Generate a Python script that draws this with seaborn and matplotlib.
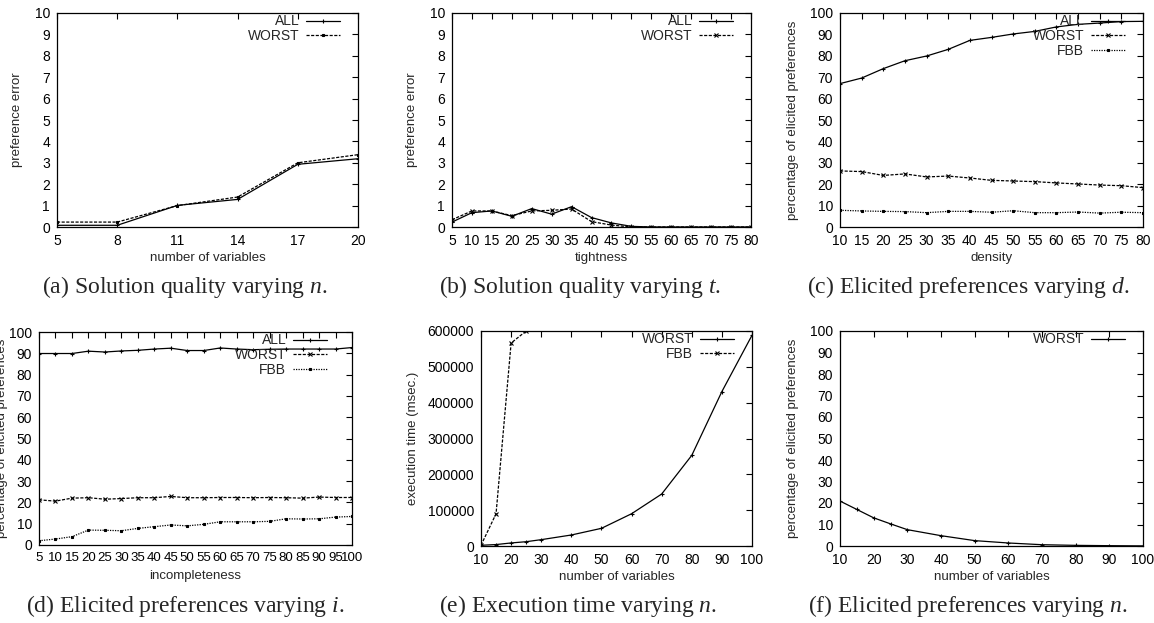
import matplotlib
matplotlib.use("Agg")
import matplotlib.pyplot as plt
import seaborn as sns
import pandas as pd

# data
n_a = [5, 8, 11, 14, 17, 20]
all_a = [0.08, 0.08, 1.01, 1.29, 2.93, 3.19]
worst_a = [0.23, 0.23, 1.0, 1.4, 3.0, 3.38]

t_b = [5, 10, 15, 20, 25, 30, 35, 40, 45, 50, 55, 60, 65, 70, 75, 80]
all_b = [0.23, 0.67, 0.75, 0.5, 0.86, 0.6, 0.95, 0.44, 0.19, 0.03, 0, 0, 0, 0, 0, 0]
worst_b = [0.34, 0.75, 0.75, 0.53, 0.75, 0.78, 0.84, 0.25, 0.09, 0, 0, 0, 0, 0, 0, 0]

d_c = [10, 15, 20, 25, 30, 35, 40, 45, 50, 55, 60, 65, 70, 75, 80]
all_c = [67, 69.6, 74, 77.7, 79.9, 83, 87.2, 88.6, 90.2, 91.4, 93.5, 94.7, 95.3, 96, 96.1]
worst_c = [26.2, 25.9, 24.1, 24.8, 23.4, 23.8, 22.9, 21.8, 21.5, 21.2, 20.6, 20.1, 19.6, 19.3, 18.4]
fbb_c = [7.8, 7.5, 7.3, 7.2, 6.7, 7.3, 7.3, 6.9, 7.6, 6.7, 6.7, 7.0, 6.5, 6.9, 6.7]

i_d = [5, 10, 15, 20, 25, 30, 35, 40, 45, 50, 55, 60, 65, 70, 75, 80, 85, 90, 95, 100]
all_d = [89.9, 89.9, 89.9, 91, 90.6, 91.1, 91.4, 92, 92.4, 91.3, 91.3, 92.5, 92, 91.7,
         91.9, 92, 92, 92, 92, 92.7]
worst_d = [21.2, 20.6, 22, 22.2, 21.5, 21.8, 22.2, 22.2, 22.8, 22.2, 22.2, 22.3, 22.3,
           22.2, 22.3, 22.2, 22, 22.5, 22.3, 22.3]
fbb_d = [2, 2.8, 3.9, 7, 6.9, 6.7, 7.8, 8.6, 9.4, 9, 9.7, 10.9, 10.9, 10.9, 11.1, 12.3,
         12.2, 12.3, 13.1, 13.4]

n_e = [10, 15, 20, 25, 30, 40, 50, 60, 70, 80, 90, 100]
worst_e = [2000, 4000, 8500, 12000, 17700, 30700, 49300, 90000, 145000, 253000, 431000, 588000]
n_e_fbb = [10, 15, 20, 25]
fbb_e = [2000, 90000, 566500, 600000]

n_f = [10, 15, 20, 25, 30, 40, 50, 60, 70, 80, 90, 100]
worst_f = [20.9, 17, 13.1, 10.3, 7.6, 4.8, 2.5, 1.4, 0.6, 0.3, 0.15, 0.05]

sns.set_style("white")
plt.rcParams['font.family'] = ['Liberation Sans', 'DejaVu Sans']
plt.rcParams['mathtext.fontset'] = 'custom'
plt.rcParams['mathtext.rm'] = 'Liberation Serif'
plt.rcParams['mathtext.it'] = 'Liberation Serif:italic'

W, H = 1154, 623
fig = plt.figure(figsize=(W / 100, H / 100), dpi=100)

styles = {
    'ALL': dict(linestyle='-', marker='+', ms=3.5),
    'WORST': dict(linestyle=(0, (2.5, 1.2)), marker='x', ms=2.5),
    'FBB': dict(linestyle=(0, (1, 1)), marker='s', ms=1.8),
}


def make_axes(left, top, right, bottom):
    return fig.add_axes([left / W, 1 - bottom / H, (right - left) / W, (bottom - top) / H])


def draw(ax, series, xlabel, ylabel, xticks, yticks, xlim, ylim, ylab_x, leg_right=17,
         style_over=None, xtick_size=10):
    for name, xs, ys in series:
        st = dict(styles[name])
        if style_over and name in style_over:
            st.update(style_over[name])
        df = pd.DataFrame({'x': xs, 'y': ys})
        sns.lineplot(data=df, x='x', y='y', ax=ax, color='black', lw=0.9,
                     mew=0.8, mec='black', mfc='black', label=name, **st)
    ax.set_xlim(*xlim)
    ax.set_ylim(*ylim)
    ax.set_xticks(xticks)
    ax.set_yticks(yticks)
    ax.tick_params(direction='in', top=True, right=True, length=4, width=0.8,
                   labelsize=10, pad=5, colors='black')
    ax.tick_params(axis='x', labelsize=xtick_size)
    for s in ax.spines.values():
        s.set_color('black')
        s.set_linewidth(0.9)
    ax.set_xlabel(xlabel, fontsize=9.5)
    ax.set_ylabel(ylabel, fontsize=9.5)
    w = ax.get_position().width * W
    h = ax.get_position().height * H
    ax.xaxis.set_label_coords(0.5, -25 / h)
    ax.yaxis.set_label_coords(ylab_x / w, 0.5)
    ax.legend(loc='upper right', bbox_to_anchor=(1 - leg_right / w, 1.0), frameon=False,
              markerfirst=False, fontsize=10, handlelength=2.4, handletextpad=0.5,
              labelspacing=0.05, borderaxespad=0, borderpad=0.1)


ax_a = make_axes(57, 13, 358, 227)
draw(ax_a, [('ALL', n_a, all_a), ('WORST', n_a, worst_a)], 'number of variables',
     'preference error', n_a, range(0, 11), (5, 20), (0, 10), -34,
     style_over={'WORST': dict(marker='s', ms=1.8)})

ax_b = make_axes(452, 13, 751, 227)
draw(ax_b, [('ALL', t_b, all_b), ('WORST', t_b, worst_b)], 'tightness',
     'preference error', t_b, range(0, 11), (5, 80), (0, 10), -34)

ax_c = make_axes(840, 13, 1143, 227)
draw(ax_c, [('ALL', d_c, all_c), ('WORST', d_c, worst_c), ('FBB', d_c, fbb_c)], 'density',
     'percentage of elicited preferences', d_c, range(0, 101, 10), (10, 80), (0, 100), -41)

ax_d = make_axes(39, 332, 352, 545)
draw(ax_d, [('ALL', i_d, all_d), ('WORST', i_d, worst_d), ('FBB', i_d, fbb_d)],
     'incompleteness', 'percentage of elicited preferences', i_d, range(0, 101, 10),
     (5, 100), (0, 100), -31, leg_right=24, xtick_size=9.5)

ax_e = make_axes(481, 331, 752, 546)
draw(ax_e, [('WORST', n_e, worst_e), ('FBB', n_e_fbb, fbb_e)], 'number of variables',
     'execution time (msec.)', range(10, 101, 10), range(0, 600001, 100000), (10, 100),
     (0, 600000), -62,
     style_over={'WORST': dict(linestyle='-', marker='+', ms=3.5),
                 'FBB': dict(linestyle=(0, (2.5, 1.2)), marker='x', ms=2.5)})

ax_f = make_axes(840, 331, 1143, 546)
draw(ax_f, [('WORST', n_f, worst_f)], 'number of variables',
     'percentage of elicited preferences', range(10, 101, 10), range(0, 101, 10),
     (10, 100), (0, 100), -41,
     style_over={'WORST': dict(linestyle='-', marker='+', ms=3.5)})

captions = [
    (185, 287, '(a) Solution quality varying $n$.'),
    (580, 287, '(b) Solution quality varying $t$.'),
    (968, 287, '(c) Elicited preferences varying $d$.'),
    (185, 606, '(d) Elicited preferences varying $i$.'),
    (578, 606, '(e) Execution time varying $n$.'),
    (968, 606, '(f) Elicited preferences varying $n$.'),
]
for cx, cy, txt in captions:
    fig.text(cx / W, 1 - cy / H, txt, ha='center', va='center', fontsize=17,
             family='Liberation Serif')

fig.savefig('out.png', dpi=100)
